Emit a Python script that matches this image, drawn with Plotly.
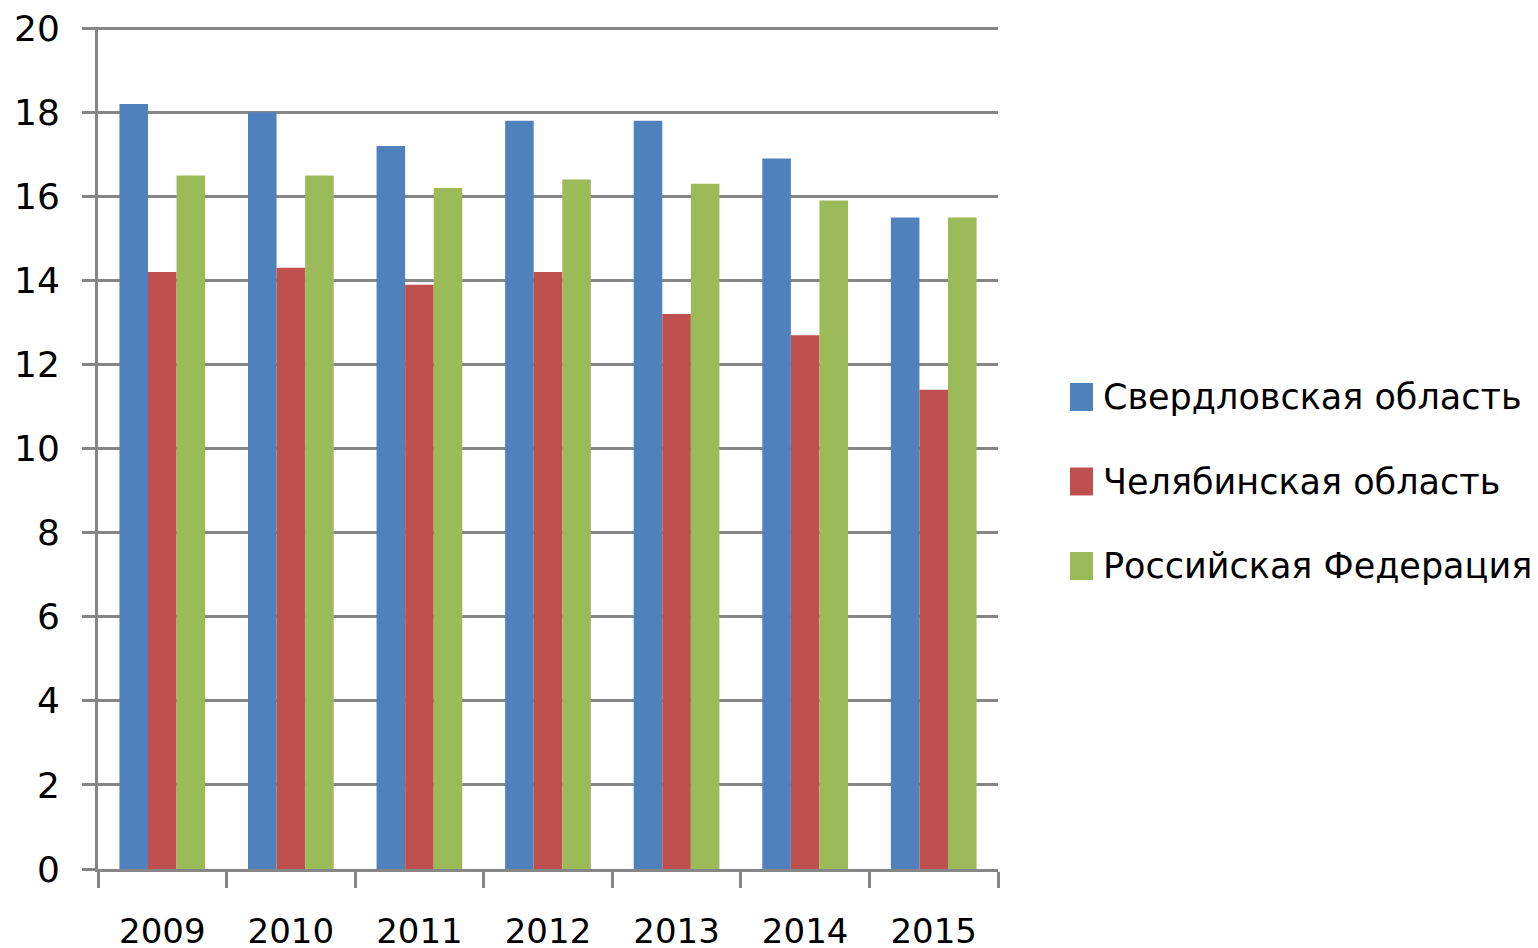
import plotly.graph_objects as go

# data
years = ["2009", "2010", "2011", "2012", "2013", "2014", "2015"]
sverdlovsk = [18.2, 18.0, 17.2, 17.8, 17.8, 16.9, 15.5]
chelyabinsk = [14.2, 14.3, 13.9, 14.2, 13.2, 12.7, 11.4]
russia = [16.5, 16.5, 16.2, 16.4, 16.3, 15.9, 15.5]

series_names = ["Свердловская область", "Челябинская область", "Российская Федерация"]
colors = ["#4F81BD", "#C0504D", "#9BBB59"]
y_ticks = list(range(0, 21, 2))

GRID = "#868686"
FONT = "DejaVu Sans"

# plot area in page pixels: x 98..998, y 27..869 (page body adds an 8px margin)
PX0, PX1, PY0, PY1 = 98, 998, 27, 869
BODY = 8


def paper_x(px):
    return (px - PX0) / (PX1 - PX0)


def paper_y(py):
    return (PY1 - py) / (PY1 - PY0)


fig = go.Figure()
for name, vals, color in zip(series_names, [sverdlovsk, chelyabinsk, russia], colors):
    fig.add_trace(go.Bar(x=years, y=vals, name=name, marker_color=color,
                         marker_line_width=0, showlegend=False))

# legend drawn by hand so the swatches can be as large as the original
legend_y = [397, 481.5, 566]
for name, color, yc in zip(series_names, colors, legend_y):
    fig.add_shape(type="rect", xref="paper", yref="paper",
                  x0=paper_x(1070), x1=paper_x(1093),
                  y0=paper_y(yc + 14), y1=paper_y(yc - 14),
                  fillcolor=color, line_width=0)
    fig.add_annotation(text=name, xref="paper", yref="paper",
                       x=paper_x(1101), y=paper_y(yc),
                       xanchor="left", yanchor="middle", showarrow=False,
                       font=dict(family=FONT, size=35, color="black"))

fig.update_layout(
    width=1538, height=948,
    margin=dict(l=PX0 - BODY, r=1538 + BODY - PX1, t=PY0 - BODY, b=948 + BODY - PY1,
                autoexpand=False),
    paper_bgcolor="white", plot_bgcolor="white",
    barmode="group", bargap=1.5 / 4.5, bargroupgap=0,
    font=dict(family=FONT, color="black"),
    showlegend=False,
)
fig.update_xaxes(
    type="category", showline=True, linecolor=GRID, linewidth=3,
    ticks="outside", tickson="boundaries", ticklen=16, tickwidth=3, tickcolor=GRID,
    tickfont=dict(family=FONT, size=34, color="black"), ticklabelstandoff=30,
    ticklabeloverflow="allow", showgrid=False,
)
fig.update_yaxes(
    range=[0, 20.03], tickvals=y_ticks, showgrid=True, gridcolor=GRID, gridwidth=3,
    zeroline=False, showline=True, linecolor=GRID, linewidth=3,
    ticks="outside", ticklen=13, tickwidth=3, tickcolor=GRID,
    tickfont=dict(family=FONT, size=36, color="black"), ticklabelstandoff=15,
    ticklabeloverflow="allow",
)

fig.write_html("out.html")
